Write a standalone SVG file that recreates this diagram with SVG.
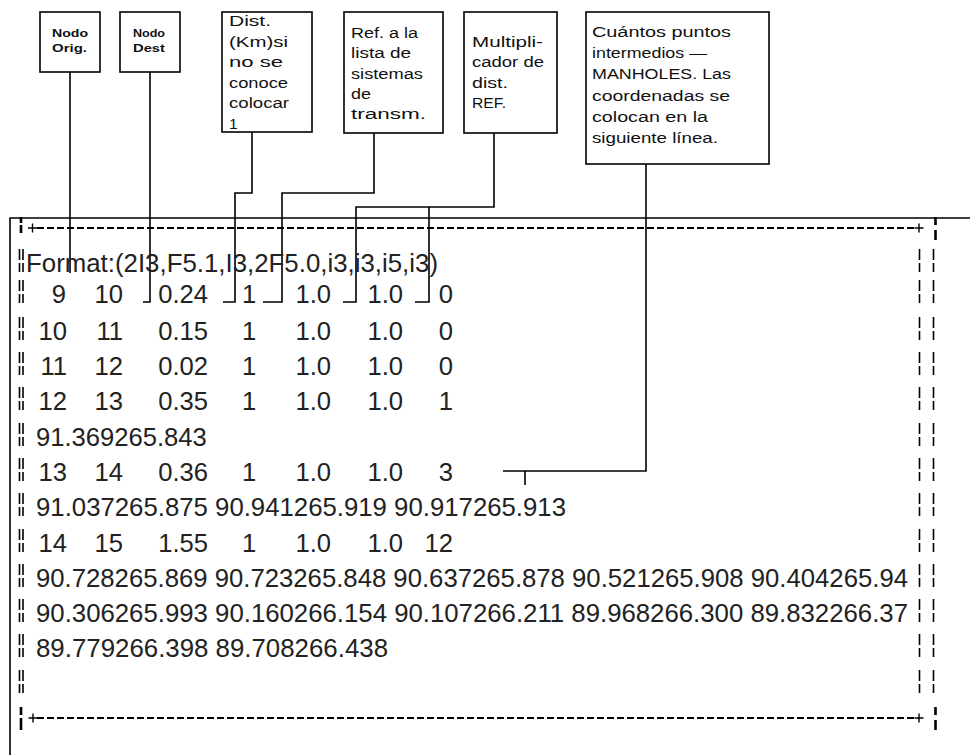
<svg xmlns="http://www.w3.org/2000/svg" width="970" height="755" viewBox="0 0 970 755">
  <style>
    .box{fill:#fff;stroke:#000;stroke-width:1.6}
    .lbl{font-family:"Liberation Sans",Arial,sans-serif;font-size:15.5px;fill:#111}
    .tiny{font-family:"Liberation Sans",Arial,sans-serif;font-size:11.5px;font-weight:bold;fill:#111}
    .row{font-family:"Liberation Sans",Arial,sans-serif;font-size:25.6px;fill:#222}
    .e{text-anchor:end}
    .wire{fill:none;stroke:#000;stroke-width:1.6}
    .dash{fill:none;stroke:#000;stroke-width:2.2;stroke-dasharray:7 3}
    .mark{fill:none;stroke:#000;stroke-width:1.6}
    .thick{fill:none;stroke:#000;stroke-width:2.6}
    .plus{fill:none;stroke:#000;stroke-width:1.4}
  </style>
  <defs>
    <!-- broken-bar pairs printed at both edges of each record line -->
    <g id="rowmark" class="mark">
      <path d="M19.5 -23V-12M19.5 -9V0M23 -23V-12M23 -9V0"/>
      <path d="M919.5 -23V-12M919.5 -9V0M933.5 -23V-12M933.5 -9V0"/>
    </g>
  </defs>
  <rect width="970" height="755" fill="#fff"/>

  <!-- annotation boxes -->
  <g id="node-orig">
    <rect class="box" x="40" y="12" width="60" height="60"/>
    <text class="tiny" x="52" y="37" textLength="36" lengthAdjust="spacingAndGlyphs">Nodo</text>
    <text class="tiny" x="52" y="52" textLength="35" lengthAdjust="spacingAndGlyphs">Orig.</text>
  </g>
  <g id="node-dest">
    <rect class="box" x="120" y="12" width="60" height="60"/>
    <text class="tiny" x="133" y="37" textLength="32" lengthAdjust="spacingAndGlyphs">Nodo</text>
    <text class="tiny" x="133" y="52" textLength="32" lengthAdjust="spacingAndGlyphs">Dest</text>
  </g>
  <g id="dist">
    <rect class="box" x="222" y="12" width="90" height="120"/>
    <text class="lbl" x="229" y="25.5" textLength="42" lengthAdjust="spacingAndGlyphs">Dist.</text>
    <text class="lbl" x="229" y="46.5" textLength="59" lengthAdjust="spacingAndGlyphs">(Km)si</text>
    <text class="lbl" x="229" y="67" textLength="54" lengthAdjust="spacingAndGlyphs">no se</text>
    <text class="lbl" x="229" y="87.5" textLength="59" lengthAdjust="spacingAndGlyphs">conoce</text>
    <text class="lbl" x="229" y="108" textLength="60" lengthAdjust="spacingAndGlyphs">colocar</text>
    <text class="lbl" x="229" y="128.5">1</text>
  </g>
  <g id="ref-sistemas">
    <rect class="box" x="344" y="12" width="99" height="121"/>
    <text class="lbl" x="351" y="37.7" textLength="67" lengthAdjust="spacingAndGlyphs">Ref. a la</text>
    <text class="lbl" x="351" y="58" textLength="60" lengthAdjust="spacingAndGlyphs">lista de</text>
    <text class="lbl" x="351" y="78.5" textLength="72" lengthAdjust="spacingAndGlyphs">sistemas</text>
    <text class="lbl" x="351" y="99" textLength="20" lengthAdjust="spacingAndGlyphs">de</text>
    <text class="lbl" x="351" y="119.3" textLength="75" lengthAdjust="spacingAndGlyphs">transm.</text>
  </g>
  <g id="multiplicador">
    <rect class="box" x="464" y="12" width="93" height="121"/>
    <text class="lbl" x="472" y="46.5" textLength="71" lengthAdjust="spacingAndGlyphs">Multipli-</text>
    <text class="lbl" x="472" y="67" textLength="72" lengthAdjust="spacingAndGlyphs">cador de</text>
    <text class="lbl" x="472" y="87.5" textLength="36" lengthAdjust="spacingAndGlyphs">dist.</text>
    <text class="lbl" x="472" y="107.5" textLength="34" lengthAdjust="spacingAndGlyphs">REF.</text>
  </g>
  <g id="puntos-intermedios">
    <rect class="box" x="586" y="12" width="183" height="152"/>
    <text class="lbl" x="592" y="36.5" textLength="139" lengthAdjust="spacingAndGlyphs">Cuántos puntos</text>
    <text class="lbl" x="592" y="58" textLength="115" lengthAdjust="spacingAndGlyphs">intermedios —</text>
    <text class="lbl" x="592" y="79" textLength="139" lengthAdjust="spacingAndGlyphs">MANHOLES. Las</text>
    <text class="lbl" x="592" y="100.5" textLength="138" lengthAdjust="spacingAndGlyphs">coordenadas se</text>
    <text class="lbl" x="592" y="122" textLength="116" lengthAdjust="spacingAndGlyphs">colocan en la</text>
    <text class="lbl" x="592" y="143" textLength="126" lengthAdjust="spacingAndGlyphs">siguiente línea.</text>
  </g>

  <!-- leader lines from the boxes down to the fields -->
  <g id="connectors" class="wire">
    <path d="M70 72V273"/>
    <path d="M150 72V302H143"/>
    <path d="M252 132V193H235V302H223"/>
    <path d="M374 133V193H282V302H263"/>
    <path d="M494 133V207H356V302H343"/>
    <path d="M429 207V302H415"/>
    <path d="M646 164V471H503"/>
    <path d="M525 471V485"/>
  </g>

  <!-- file listing frame -->
  <g id="frame">
    <path class="wire" d="M10 755V218H970"/>
    <path class="dash" d="M37 228H914"/>
    <path class="dash" d="M37 718H914"/>
    <path class="plus" d="M28 228H37M32.5 223.5V232.5"/>
    <path class="plus" d="M914.5 228H923.5M919 223.5V232.5"/>
    <path class="plus" d="M28.5 718H37.5M33 713.5V722.5"/>
    <path class="plus" d="M914.5 718H923.5M919 713.5V722.5"/>
    <path class="thick" d="M21 217V223M21 225V233"/>
    <path class="thick" d="M935.5 217V225M935.5 230V240"/>
    <path class="thick" d="M21 707V715M21 718V730"/>
    <path class="thick" d="M935.5 707V715M935.5 720V730"/>
    <use href="#rowmark" y="272"/>
    <use href="#rowmark" y="303"/>
    <use href="#rowmark" y="340"/>
    <use href="#rowmark" y="375"/>
    <use href="#rowmark" y="410"/>
    <use href="#rowmark" y="446"/>
    <use href="#rowmark" y="481"/>
    <use href="#rowmark" y="516"/>
    <use href="#rowmark" y="552"/>
    <use href="#rowmark" y="587"/>
    <use href="#rowmark" y="622"/>
    <use href="#rowmark" y="657"/>
    <use href="#rowmark" y="693"/>
  </g>

  <!-- listing content -->
  <g id="listing" class="row">
    <text x="26" y="272" textLength="412" lengthAdjust="spacingAndGlyphs">Format:(2I3,F5.1,I3,2F5.0,i3,i3,i5,i3)</text>

    <text class="e" x="66" y="303">9</text><text class="e" x="123" y="303">10</text><text class="e" x="208" y="303">0.24</text><text x="242" y="303">1</text><text class="e" x="331" y="303">1.0</text><text class="e" x="403" y="303">1.0</text><text class="e" x="453" y="303">0</text>

    <text class="e" x="67" y="340">10</text><text class="e" x="123" y="340">11</text><text class="e" x="208" y="340">0.15</text><text x="242" y="340">1</text><text class="e" x="331" y="340">1.0</text><text class="e" x="403" y="340">1.0</text><text class="e" x="453" y="340">0</text>

    <text class="e" x="67" y="375">11</text><text class="e" x="123" y="375">12</text><text class="e" x="208" y="375">0.02</text><text x="242" y="375">1</text><text class="e" x="331" y="375">1.0</text><text class="e" x="403" y="375">1.0</text><text class="e" x="453" y="375">0</text>

    <text class="e" x="67" y="410">12</text><text class="e" x="123" y="410">13</text><text class="e" x="208" y="410">0.35</text><text x="242" y="410">1</text><text class="e" x="331" y="410">1.0</text><text class="e" x="403" y="410">1.0</text><text class="e" x="453" y="410">1</text>

    <text x="36" y="446">91.369265.843</text>

    <text class="e" x="67" y="481">13</text><text class="e" x="123" y="481">14</text><text class="e" x="208" y="481">0.36</text><text x="242" y="481">1</text><text class="e" x="331" y="481">1.0</text><text class="e" x="403" y="481">1.0</text><text class="e" x="453" y="481">3</text>

    <text x="36" y="516" textLength="530" lengthAdjust="spacingAndGlyphs">91.037265.875 90.941265.919 90.917265.913</text>

    <text class="e" x="67" y="552">14</text><text class="e" x="123" y="552">15</text><text class="e" x="208" y="552">1.55</text><text x="242" y="552">1</text><text class="e" x="331" y="552">1.0</text><text class="e" x="403" y="552">1.0</text><text class="e" x="453" y="552">12</text>

    <text x="36" y="587" textLength="872" lengthAdjust="spacingAndGlyphs">90.728265.869 90.723265.848 90.637265.878 90.521265.908 90.404265.94</text>
    <text x="36" y="622" textLength="872" lengthAdjust="spacingAndGlyphs">90.306265.993 90.160266.154 90.107266.211 89.968266.300 89.832266.37</text>
    <text x="36" y="657" textLength="352" lengthAdjust="spacingAndGlyphs">89.779266.398 89.708266.438</text>
  </g>
</svg>
